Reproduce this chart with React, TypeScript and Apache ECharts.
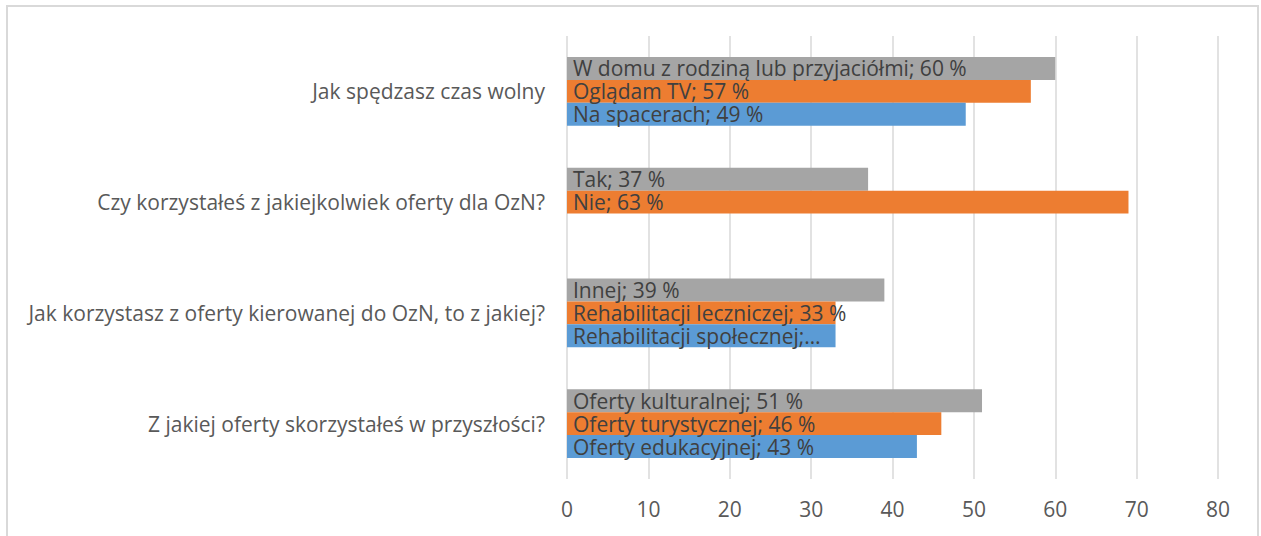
import React, { useEffect, useRef } from "react";
import * as echarts from "echarts";

const categories = [
  "Jak spędzasz czas wolny",
  "Czy korzystałeś z jakiejkolwiek oferty dla OzN?",
  "Jak korzystasz z oferty kierowanej do OzN, to z jakiej?",
  "Z jakiej oferty skorzystałeś w przyszłości?",
];

const grayValues = [60, 37, 39, 51];
const orangeValues = [57, 69, 33, 46];
const blueValues: (number | null)[] = [49, null, 33, 43];

const grayLabels = [
  "W domu z rodziną lub przyjaciółmi; 60 %",
  "Tak; 37 %",
  "Innej; 39 %",
  "Oferty kulturalnej; 51 %",
];
const orangeLabels = [
  "Oglądam TV; 57 %",
  "Nie; 63 %",
  "Rehabilitacji leczniczej; 33 %",
  "Oferty turystycznej; 46 %",
];
const blueLabels = [
  "Na spacerach; 49 %",
  "",
  "Rehabilitacji społecznej;…",
  "Oferty edukacyjnej; 43 %",
];

const xTicks = [0, 10, 20, 30, 40, 50, 60, 70, 80];

const FONT = "'Open Sans', 'Noto Sans', sans-serif";

export default function App() {
  const ref = useRef<HTMLDivElement>(null);
  useEffect(() => {
    if (!ref.current) return;
    const chart = echarts.init(ref.current, undefined, { renderer: "svg" });
    const mkLabel = (labels: string[]) => ({
      show: true,
      position: "insideLeft",
      distance: 6,
      color: "#404040",
      fontSize: 21,
      fontFamily: FONT,
      formatter: (p: any) => labels[p.dataIndex] || "",
    });
    chart.setOption({
      animation: false,
      graphic: [
        {
          type: "rect",
          shape: { x: 7, y: 6, width: 1251, height: 560 },
          style: { fill: "none", stroke: "#d9d9d9", lineWidth: 2 },
          silent: true,
        },
      ],
      grid: { left: 567, right: 43, top: 36, bottom: 57, containLabel: false },
      xAxis: {
        type: "value",
        min: xTicks[0],
        max: xTicks[xTicks.length - 1],
        interval: 10,
        axisLine: { show: false },
        axisTick: { show: false },
        axisLabel: {
          color: "#595959",
          fontSize: 21,
          fontFamily: FONT,
          margin: 19,
        },
        splitLine: { show: true, lineStyle: { color: "#d9d9d9", width: 1.5 } },
      },
      yAxis: {
        type: "category",
        inverse: true,
        data: categories,
        axisLine: { show: false },
        axisTick: { show: false },
        axisLabel: {
          color: "#595959",
          fontSize: 21,
          fontFamily: FONT,
          margin: 22,
        },
      },
      series: [
        {
          name: "gray",
          type: "bar",
          data: grayValues,
          itemStyle: { color: "#A5A5A5" },
          barGap: "0%",
          barCategoryGap: "38%",
          label: mkLabel(grayLabels),
        },
        {
          name: "orange",
          type: "bar",
          data: orangeValues,
          itemStyle: { color: "#ED7D31" },
          barGap: "0%",
          barCategoryGap: "38%",
          label: mkLabel(orangeLabels),
        },
        {
          name: "blue",
          type: "bar",
          data: blueValues,
          itemStyle: { color: "#5B9BD5" },
          barGap: "0%",
          barCategoryGap: "38%",
          label: mkLabel(blueLabels),
        },
      ],
    });
    return () => chart.dispose();
  }, []);
  return (
    <div
      ref={ref}
      style={{ position: "absolute", left: 0, top: 0, width: 1261, height: 536, background: "#fff" }}
    />
  );
}
